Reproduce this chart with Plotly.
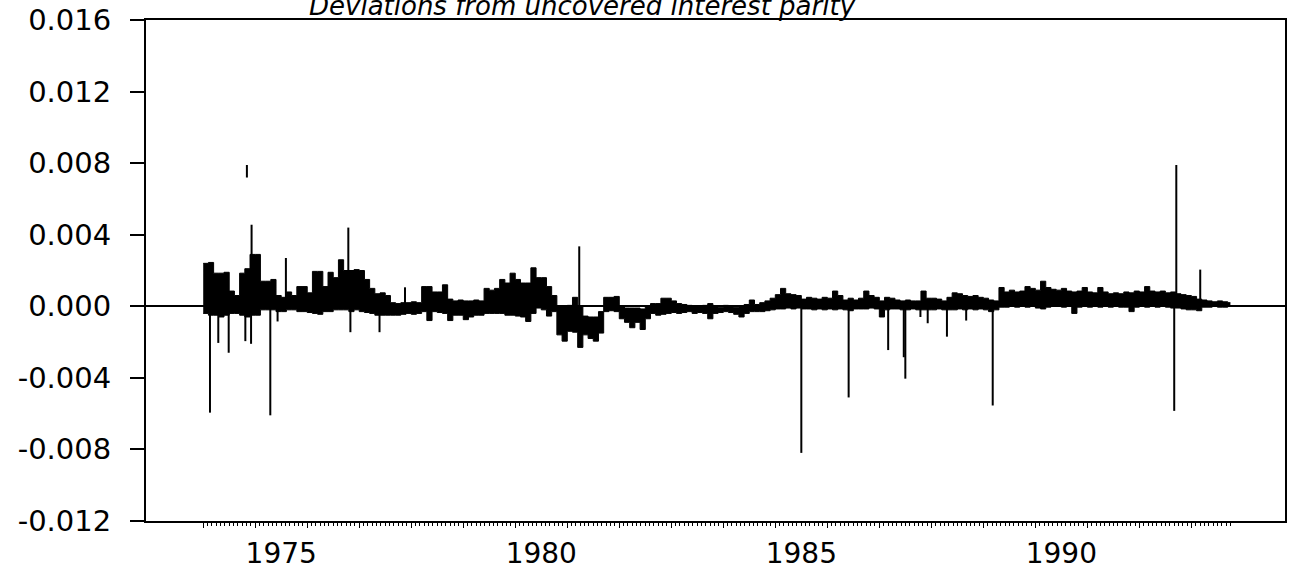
import numpy as np
import plotly.graph_objects as go

# Deviations from uncovered interest parity in units of 0.001.
# The daily series is a dense band: its upper and lower edge, one value per tenth of a year,
# starting 1974.0 (last bin 1993.7, series ends 1993.75).
band_start = 1974.0
band_end = 1993.75

band_upper = [
    2.4, 2.45, 1.85, 1.85, 1.9, 0.85, 0.6, 1.85, 2.1, 2.9,        # 1974
    2.9, 1.4, 1.4, 1.5, 0.6, 0.5, 0.8, 0.6, 1.1, 1.1,             # 1975
    0.75, 1.95, 1.95, 1.1, 1.9, 1.6, 2.6, 2.0, 2.0, 2.05,         # 1976
    2.0, 1.5, 1.0, 0.7, 0.75, 0.6, 0.2, 0.15, 0.2, 0.2,           # 1977
    0.25, 0.2, 1.1, 1.1, 0.8, 0.8, 1.2, 0.4, 0.3, 0.35,           # 1978
    0.3, 0.3, 0.35, 0.3, 1.0, 0.9, 1.0, 1.5, 1.3, 1.85,           # 1979
    1.5, 1.3, 1.3, 2.15, 1.6, 1.6, 1.1, 0.6, 0.0, 0.0,            # 1980
    0.05, 0.5, 0.0, -0.55, -0.6, -0.6, -0.3, 0.5, 0.5, 0.55,      # 1981
    0.0, -0.1, -0.1, -0.1, -0.15, 0.0, 0.15, 0.15, 0.45, 0.45,    # 1982
    0.3, 0.15, 0.1, 0.05, 0.0, 0.0, 0.05, 0.15, 0.0, -0.05,       # 1983
    0.05, 0.0, -0.05, 0.0, 0.1, 0.35, 0.1, 0.2, 0.3, 0.45,        # 1984
    0.65, 1.0, 0.7, 0.65, 0.6, 0.4, 0.5, 0.45, 0.4, 0.5,          # 1985
    0.45, 0.85, 0.6, 0.35, 0.45, 0.35, 0.45, 0.85, 0.6, 0.5,      # 1986
    0.3, 0.5, 0.45, 0.35, 0.3, 0.35, 0.3, 0.3, 0.85, 0.45,        # 1987
    0.45, 0.4, 0.3, 0.5, 0.75, 0.7, 0.6, 0.55, 0.6, 0.5,          # 1988
    0.45, 0.35, 0.3, 1.05, 0.8, 0.9, 0.8, 0.85, 1.1, 1.0,         # 1989
    0.9, 1.4, 1.05, 0.95, 0.9, 1.0, 0.85, 0.8, 0.85, 1.05,        # 1990
    0.8, 0.75, 1.05, 0.8, 0.7, 0.75, 0.7, 0.8, 0.75, 0.85,        # 1991
    0.8, 1.1, 0.85, 0.8, 0.85, 0.75, 0.8, 0.7, 0.65, 0.6,         # 1992
    0.55, 0.4, 0.35, 0.3, 0.25, 0.3, 0.25, 0.2,                   # 1993
]

band_lower = [
    -0.4, -0.5, -0.5, -0.6, -0.5, -0.4, -0.4, -0.5, -0.6, -0.5,       # 1974
    -0.5, -0.2, -0.2, -0.2, -0.3, -0.3, -0.2, -0.2, -0.3, -0.3,       # 1975
    -0.35, -0.4, -0.45, -0.3, -0.3, -0.2, -0.2, -0.2, -0.3, -0.2,     # 1976
    -0.3, -0.35, -0.4, -0.5, -0.5, -0.5, -0.5, -0.5, -0.45, -0.4,     # 1977
    -0.45, -0.4, -0.3, -0.8, -0.3, -0.35, -0.4, -0.8, -0.5, -0.5,     # 1978
    -0.75, -0.6, -0.5, -0.5, -0.4, -0.4, -0.4, -0.4, -0.5, -0.5,      # 1979
    -0.55, -0.6, -0.85, -0.4, -0.1, -0.2, -0.55, -0.3, -1.6, -1.95,   # 1980
    -1.4, -1.45, -2.3, -1.6, -1.8, -1.95, -1.5, -0.3, -0.25, -0.3,    # 1981
    -0.7, -0.9, -1.2, -0.9, -1.3, -0.7, -0.4, -0.5, -0.45, -0.4,      # 1982
    -0.35, -0.4, -0.35, -0.3, -0.4, -0.35, -0.4, -0.7, -0.4, -0.35,   # 1983
    -0.3, -0.35, -0.45, -0.6, -0.4, -0.3, -0.3, -0.3, -0.25, -0.2,    # 1984
    -0.15, -0.15, -0.1, -0.15, -0.1, -0.15, -0.15, -0.2, -0.15, -0.2, # 1985
    -0.15, -0.2, -0.15, -0.2, -0.25, -0.15, -0.15, -0.15, -0.1, -0.15,# 1986
    -0.6, -0.2, -0.15, -0.15, -0.2, -0.2, -0.15, -0.2, -0.2, -0.2,    # 1987
    -0.2, -0.15, -0.2, -0.2, -0.2, -0.15, -0.2, -0.15, -0.2, -0.15,   # 1988
    -0.2, -0.3, -0.2, -0.05, -0.05, 0.0, -0.05, 0.0, -0.05, 0.0,      # 1989
    -0.1, -0.15, -0.05, 0.0, 0.0, -0.05, 0.0, -0.4, -0.05, 0.0,       # 1990
    -0.05, 0.0, -0.05, 0.0, -0.05, 0.0, -0.05, -0.05, -0.3, -0.05,    # 1991
    0.0, -0.05, 0.0, -0.05, 0.0, -0.05, -0.1, -0.1, -0.15, -0.2,      # 1992
    -0.2, -0.25, -0.05, -0.05, 0.0, -0.05, -0.05, 0.0,                # 1993
]

# single-day spikes sticking out of the band (time in years, value in 0.001)
spike_time = [1974.13, 1974.29, 1974.49, 1974.81, 1974.92, 1974.93, 1975.29, 1975.43,
              1975.59, 1976.79, 1976.83, 1977.39, 1977.88, 1981.23, 1985.50, 1986.41,
              1987.17, 1987.47, 1987.50, 1987.79, 1987.93, 1988.30, 1988.67, 1989.18,
              1992.67, 1992.71, 1993.17]
spike_value = [-5.95, -2.05, -2.6, -1.95, -2.1, 4.56, -6.1, -0.85,
               2.7, 4.4, -1.45, -1.45, 1.06, 3.35, -8.2, -5.1,
               -2.45, -2.85, -4.05, -0.6, -0.95, -1.7, -0.8, -5.55,
               -5.85, 7.9, 2.05]

# detached top piece of a 1974 spike, as printed
fragment_time = [1974.84]
fragment_low = [7.2]
fragment_high = [7.9]

y_ticks = [-0.012, -0.008, -0.004, 0.0, 0.004, 0.008, 0.012, 0.016]
y_tick_text = ["-0.012", "-0.008", "-0.004", "0.000", "0.004", "0.008", "0.012", "0.016"]
year_labels = [1975, 1980, 1985, 1990]

SCALE = 1e-3
FONT = "DejaVu Sans"
x_range = [1972.9, 1994.8]
BIN = 0.1

# bin edges for the step band
band_t = [round(band_start + BIN * k, 2) for k in range(len(band_upper))] + [band_end]
upper = np.array(band_upper + [band_upper[-1]]) * SCALE
lower = np.array(band_lower + [band_lower[-1]]) * SCALE

spike_x, spike_y = [], []
for t, v in zip(spike_time, spike_value):
    spike_x += [t, t, None]
    spike_y += [0.0, v * SCALE, None]
for t, lo, hi in zip(fragment_time, fragment_low, fragment_high):
    spike_x += [t, t, None]
    spike_y += [lo * SCALE, hi * SCALE, None]

fig = go.Figure()

fig.add_trace(go.Scatter(
    x=band_t, y=lower, mode="lines", line=dict(color="black", width=1, shape="hv"),
    hoverinfo="skip", showlegend=False,
))
fig.add_trace(go.Scatter(
    x=band_t, y=upper, mode="lines", line=dict(color="black", width=1, shape="hv"),
    fill="tonexty", fillcolor="black", hoverinfo="skip", showlegend=False,
))
fig.add_trace(go.Scatter(
    x=spike_x, y=spike_y, mode="lines", line=dict(color="black", width=2),
    xaxis="x2", hoverinfo="skip", showlegend=False,
))

# small monthly ticks along the sample, slightly longer yearly ones
month_ticks = [1974 + m / 12 for m in range(int((band_end - 1974) * 12) + 1)]
year_ticks = list(range(1974, 1994))

# the title sits right on the top edge and is cut off there, as in the source
fig.add_annotation(
    text="<i>Deviations from uncovered interest parity</i>",
    xref="paper", yref="paper", x=(307 - 146) / (1285 - 146), y=1,
    xanchor="left", yanchor="bottom", yshift=-3, showarrow=False,
    font=dict(family=FONT, size=26, color="black"),
)

fig.update_layout(
    width=1294, height=574,
    margin=dict(l=146, r=9, t=20, b=53, autoexpand=False),
    paper_bgcolor="white", plot_bgcolor="white",
    font=dict(family=FONT, size=28, color="black"),
    showlegend=False,
    xaxis=dict(
        range=x_range, showgrid=False, zeroline=False, automargin=False,
        showline=True, linecolor="black", linewidth=2, mirror=True,
        tickmode="array", tickvals=year_ticks, ticks="outside", ticklen=5,
        tickwidth=1, tickcolor="black", showticklabels=False,
        minor=dict(tickmode="array", tickvals=month_ticks, ticks="outside",
                   ticklen=3, tickwidth=1, tickcolor="black", showgrid=False),
    ),
    xaxis2=dict(
        overlaying="x", anchor="y", side="bottom", range=x_range, automargin=False,
        showgrid=False, zeroline=False, showline=False, ticks="",
        tickmode="array", tickvals=[y + 0.5 for y in year_labels],
        ticktext=[str(y) for y in year_labels], ticklabelstandoff=13,
        tickfont=dict(family=FONT, size=28, color="black"),
    ),
    yaxis=dict(
        range=[-0.01201, 0.01601], showgrid=False, automargin=False,
        zeroline=True, zerolinecolor="black", zerolinewidth=1.5,
        showline=True, linecolor="black", linewidth=2, mirror=True,
        tickmode="array", tickvals=y_ticks, ticktext=y_tick_text,
        ticks="outside", ticklen=14, tickwidth=1.5, tickcolor="black",
        ticklabelstandoff=13,
        tickfont=dict(family=FONT, size=29, color="black"),
    ),
)

# the page is photographed edge to edge, so drop the default body margin
fig.write_html("out.html", config={"displayModeBar": False},
               post_script="document.body.style.margin = '0';")
